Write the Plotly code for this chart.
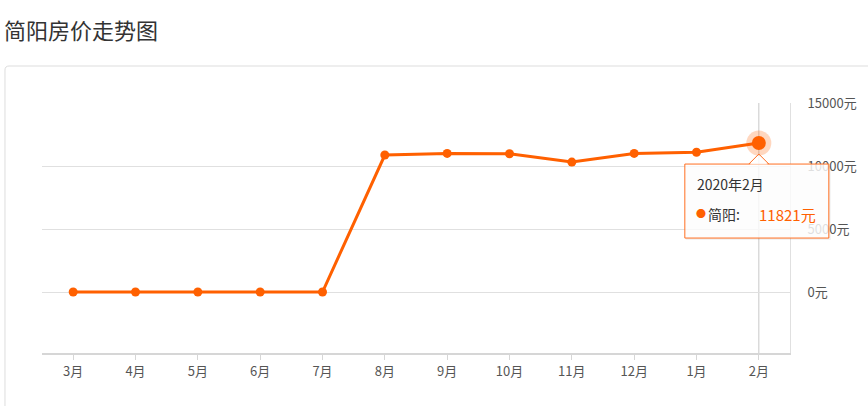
import plotly.graph_objects as go

months = ["3月", "4月", "5月", "6月", "7月", "8月", "9月", "10月", "11月", "12月", "1月", "2月"]
prices = [0, 0, 0, 0, 0, 10870, 11000, 10970, 10310, 11000, 11090, 11821]
y_ticks = [0, 5000, 10000, 15000]
series_name = "简阳"
tip_title = "2020年2月"
chart_title = "简阳房价走势图"

ORANGE = "#ff6000"
TIP_BORDER = "#ff6d1f"
FONT = "Noto Sans CJK SC, Microsoft YaHei, sans-serif"
Y_RANGE = [-4840, 15000]

fig = go.Figure()
fig.add_trace(go.Scatter(
    x=months, y=prices, mode="lines+markers",
    line=dict(color=ORANGE, width=3),
    marker=dict(color=ORANGE, size=9),
    hoverinfo="skip", showlegend=False,
))
# highlighted (hovered) point
fig.add_trace(go.Scatter(
    x=[months[-1]], y=[prices[-1]], mode="markers",
    marker=dict(color="rgba(255,96,0,0.25)", size=25),
    hoverinfo="skip", showlegend=False, cliponaxis=False,
))
fig.add_trace(go.Scatter(
    x=[months[-1]], y=[prices[-1]], mode="markers",
    marker=dict(color=ORANGE, size=14),
    hoverinfo="skip", showlegend=False, cliponaxis=False,
))

# anchor of the tooltip (last point) in paper coordinates
ax_p = (len(months) - 1 + 0.5) / len(months)
ay_p = (prices[-1] - Y_RANGE[0]) / (Y_RANGE[1] - Y_RANGE[0])

shapes = []
# card border
shapes.append(dict(type="path", xref="paper", yref="paper",
                   path="M -0.0495,-0.3 L -0.0495,1.132 Q -0.0495,1.148 -0.044,1.148 L 1.2,1.148",
                   line=dict(color="#dddddd", width=1), layer="below"))
# axis pointer line
shapes.append(dict(type="line", xref="x", yref="paper", x0=months[-1], x1=months[-1], y0=0, y1=1,
                   line=dict(color="#c8c8c8", width=1), layer="below"))
# tooltip shadow + box
shapes.append(dict(type="rect", xref="paper", yref="paper", xsizemode="pixel", ysizemode="pixel",
                   xanchor=ax_p, yanchor=ay_p,
                   x0=-73, x1=72, y0=-23, y1=-97,
                   line=dict(width=0), fillcolor="rgba(0,0,0,0.05)"))
shapes.append(dict(type="rect", xref="paper", yref="paper", xsizemode="pixel", ysizemode="pixel",
                   xanchor=ax_p, yanchor=ay_p,
                   x0=-74, x1=70, y0=-21, y1=-95,
                   line=dict(color=TIP_BORDER, width=1), fillcolor="rgba(255,255,255,0.82)"))
shapes.append(dict(type="path", xref="paper", yref="paper", xsizemode="pixel", ysizemode="pixel",
                   xanchor=ax_p, yanchor=ay_p,
                   path="M -9,-21.5 L 0,-12 L 9,-21.5 Z",
                   line=dict(color="rgba(0,0,0,0)", width=0), fillcolor="rgba(255,255,255,0.82)"))
shapes.append(dict(type="path", xref="paper", yref="paper", xsizemode="pixel", ysizemode="pixel",
                   xanchor=ax_p, yanchor=ay_p,
                   path="M -10,-21 L 0,-11 L 10,-21",
                   line=dict(color=TIP_BORDER, width=1)))

annotations = [
    dict(x=months[-1], y=prices[-1], xref="x", yref="y", text=tip_title, showarrow=False,
         xanchor="left", yanchor="middle", xshift=-64, yshift=-41,
         font=dict(family=FONT, size=14, color="#333333")),
    dict(x=months[-1], y=prices[-1], xref="x", yref="y", text="●", showarrow=False,
         xanchor="left", yanchor="middle", xshift=-65, yshift=-70,
         font=dict(family=FONT, size=10, color=ORANGE)),
    dict(x=months[-1], y=prices[-1], xref="x", yref="y", text=series_name + ":", showarrow=False,
         xanchor="left", yanchor="middle", xshift=-53, yshift=-71,
         font=dict(family=FONT, size=14, color="#333333")),
    dict(x=months[-1], y=prices[-1], xref="x", yref="y", text=f"{prices[-1]}元", showarrow=False,
         xanchor="left", yanchor="middle", xshift=-2, yshift=-71,
         font=dict(family=FONT, size=15, color=ORANGE)),
]

fig.update_layout(
    width=868, height=406,
    margin=dict(l=42, r=78, t=103, b=53),
    paper_bgcolor="white", plot_bgcolor="white",
    font=dict(family=FONT, size=12, color="#555555"),
    title=dict(text=chart_title, xref="container", yref="container", x=4/868, xanchor="left",
               y=1 - 31/406, yanchor="middle",
               font=dict(family=FONT, size=22, color="#333333")),
    shapes=shapes, annotations=annotations,
    xaxis=dict(type="category", range=[-0.5, len(months) - 0.5], showgrid=False,
               showline=True, linecolor="#d6d6d6", linewidth=2,
               ticks="outside", ticklen=5, tickcolor="#d6d6d6",
               tickfont=dict(family=FONT, size=13, color="#555555"),
               zeroline=False, fixedrange=True),
    yaxis=dict(side="right", range=Y_RANGE, tickvals=y_ticks,
               ticktext=[f"{v}元" for v in y_ticks],
               showgrid=True, gridcolor="#e0e0e0", gridwidth=1,
               showline=True, linecolor="#e0e0e0", linewidth=1,
               zeroline=False, ticks="", ticklabelstandoff=14,
               tickfont=dict(family=FONT, size=13, color="#555555"), fixedrange=True),
)

fig.write_html("out.html", config={"displayModeBar": False},
               post_script="document.body.style.margin='0px';")
